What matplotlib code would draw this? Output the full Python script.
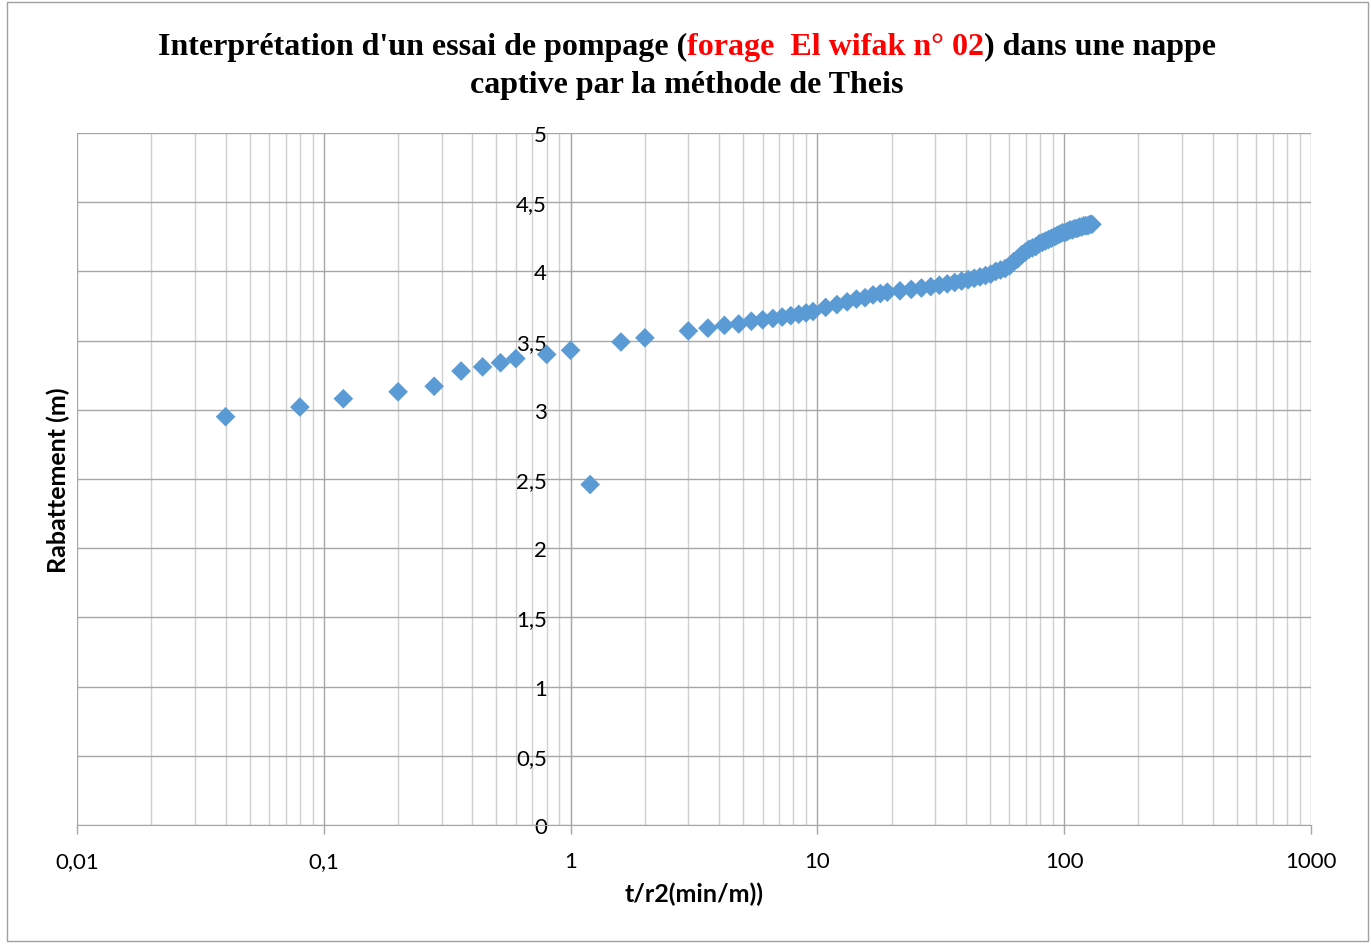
import matplotlib
matplotlib.use("Agg")
import matplotlib.pyplot as plt
from matplotlib.ticker import LogLocator, FixedLocator, FuncFormatter, NullFormatter
from matplotlib.patches import Rectangle

# t/r2 (min/m) and drawdown (m)
t_r2 = [0.04, 0.08, 0.12, 0.2, 0.28, 0.36, 0.44, 0.52, 0.6, 0.8, 1.0, 1.2, 1.6, 2.0,
        3.0, 3.6, 4.2, 4.8, 5.4, 6.0, 6.6, 7.2, 7.8, 8.4, 9.0, 9.6,
        10.8, 12.0, 13.2, 14.4, 15.6, 16.8, 18.0, 19.2,
        21.6, 24.0, 26.4, 28.8, 31.2, 33.6, 36.0, 38.4, 40.8, 43.2, 45.6, 48.0,
        50.4, 52.8, 55.2, 57.6, 60.0, 62.4, 64.8, 67.2, 69.6, 72.0, 74.4, 76.8,
        79.2, 81.6, 84.0, 86.4, 88.8, 91.2, 93.6, 96.0, 98.4, 100.8, 103.2, 105.6,
        108.0, 110.4, 112.8, 115.2, 117.6, 120.0, 122.4, 124.8, 127.2, 129.6]
rabattement = [2.95, 3.02, 3.08, 3.13, 3.17, 3.28, 3.31, 3.34, 3.37, 3.40, 3.43, 2.46, 3.49, 3.52,
               3.57, 3.59, 3.61, 3.62, 3.64, 3.65, 3.66, 3.67, 3.68, 3.69, 3.70, 3.71,
               3.74, 3.76, 3.78, 3.80, 3.81, 3.83, 3.84, 3.85,
               3.86, 3.87, 3.88, 3.89, 3.90, 3.91, 3.92, 3.93, 3.94, 3.95, 3.96, 3.97,
               3.98, 4.00, 4.01, 4.02, 4.04, 4.07, 4.09, 4.12, 4.14, 4.16, 4.17, 4.18,
               4.20, 4.21, 4.22, 4.23, 4.24, 4.25, 4.26, 4.27, 4.28, 4.28, 4.29, 4.30,
               4.30, 4.31, 4.31, 4.32, 4.32, 4.33, 4.33, 4.33, 4.34, 4.34]

x_ticks = [0.01, 0.1, 1, 10, 100, 1000]
y_ticks = [0, 0.5, 1, 1.5, 2, 2.5, 3, 3.5, 4, 4.5, 5]

title_l1 = ["Interprétation d'un essai de pompage (", "forage  El wifak n° 02", ") dans une nappe"]
title_l1_colors = ["black", "#FF0000", "black"]
title_l2 = "captive par la méthode de Theis"

plt.rcParams['font.family'] = ['Lato', 'DejaVu Sans']

fig = plt.figure(figsize=(13.71, 9.45), dpi=100)
ax = fig.add_axes([77/1371, 119/945, 1234/1371, 692/945])

ax.scatter(t_r2, rabattement, marker='D', s=10**2, color='#5B9BD5', edgecolors='none', zorder=3)

ax.set_xscale('log')
ax.set_xlim(0.01, 1000)
ax.set_ylim(0, 5)

def comma(v, pos):
    s = ('%g' % v)
    return s.replace('.', ',')

ax.xaxis.set_major_locator(FixedLocator(x_ticks))
ax.xaxis.set_minor_locator(LogLocator(base=10, subs=range(2, 10)))
ax.xaxis.set_major_formatter(FuncFormatter(comma))
ax.xaxis.set_minor_formatter(NullFormatter())
ax.yaxis.set_major_locator(FixedLocator(y_ticks))
ax.yaxis.set_major_formatter(FuncFormatter(comma))

ax.grid(which='major', axis='both', color='#A6A6A6', linewidth=1.0)
ax.grid(which='minor', axis='x', color='#D0D0D0', linewidth=1.0)
ax.set_axisbelow(True)

for s in ['top', 'right']:
    ax.spines[s].set_visible(False)
ax.spines['left'].set_position(('data', 1))
ax.spines['left'].set_color('#A6A6A6')
ax.spines['bottom'].set_color('#A6A6A6')

ax.tick_params(axis='x', which='major', length=6.5, width=1, color='#A6A6A6', pad=12, labelsize=16)
ax.tick_params(axis='x', which='minor', length=0)
ax.tick_params(axis='y', length=0, pad=17, labelsize=16)

ax.set_xlabel('t/r2(min/m))', fontsize=18, fontweight='bold', labelpad=8)
ax.text(58/1371, 1 - 480/945, 'Rabattement (m)', transform=fig.transFigure, rotation=90,
        ha='center', va='center', fontsize=18, fontweight='bold')

# title with a red part
tfont = dict(family='Liberation Serif', fontsize=23, fontweight='bold')
fig.canvas.draw()
r = fig.canvas.get_renderer()
pieces = []
widths = []
for txt, col in zip(title_l1, title_l1_colors):
    t = fig.text(0, 1 - 47/945, txt, color=col, ha='left', va='center', **tfont)
    pieces.append(t)
    widths.append(t.get_window_extent(r).width)
x0 = 687 - sum(widths) / 2
for t, w in zip(pieces, widths):
    t.set_x(x0 / 1371)
    x0 += w
fig.text(687/1371, 1 - 85/945, title_l2, ha='center', va='center', **tfont)

fig.patches.append(Rectangle((7/1371, 3/945), 1361/1371, 939/945, transform=fig.transFigure,
                             fill=False, edgecolor='#A0A0A0', linewidth=1.0))

fig.savefig('out.png', dpi=100)
